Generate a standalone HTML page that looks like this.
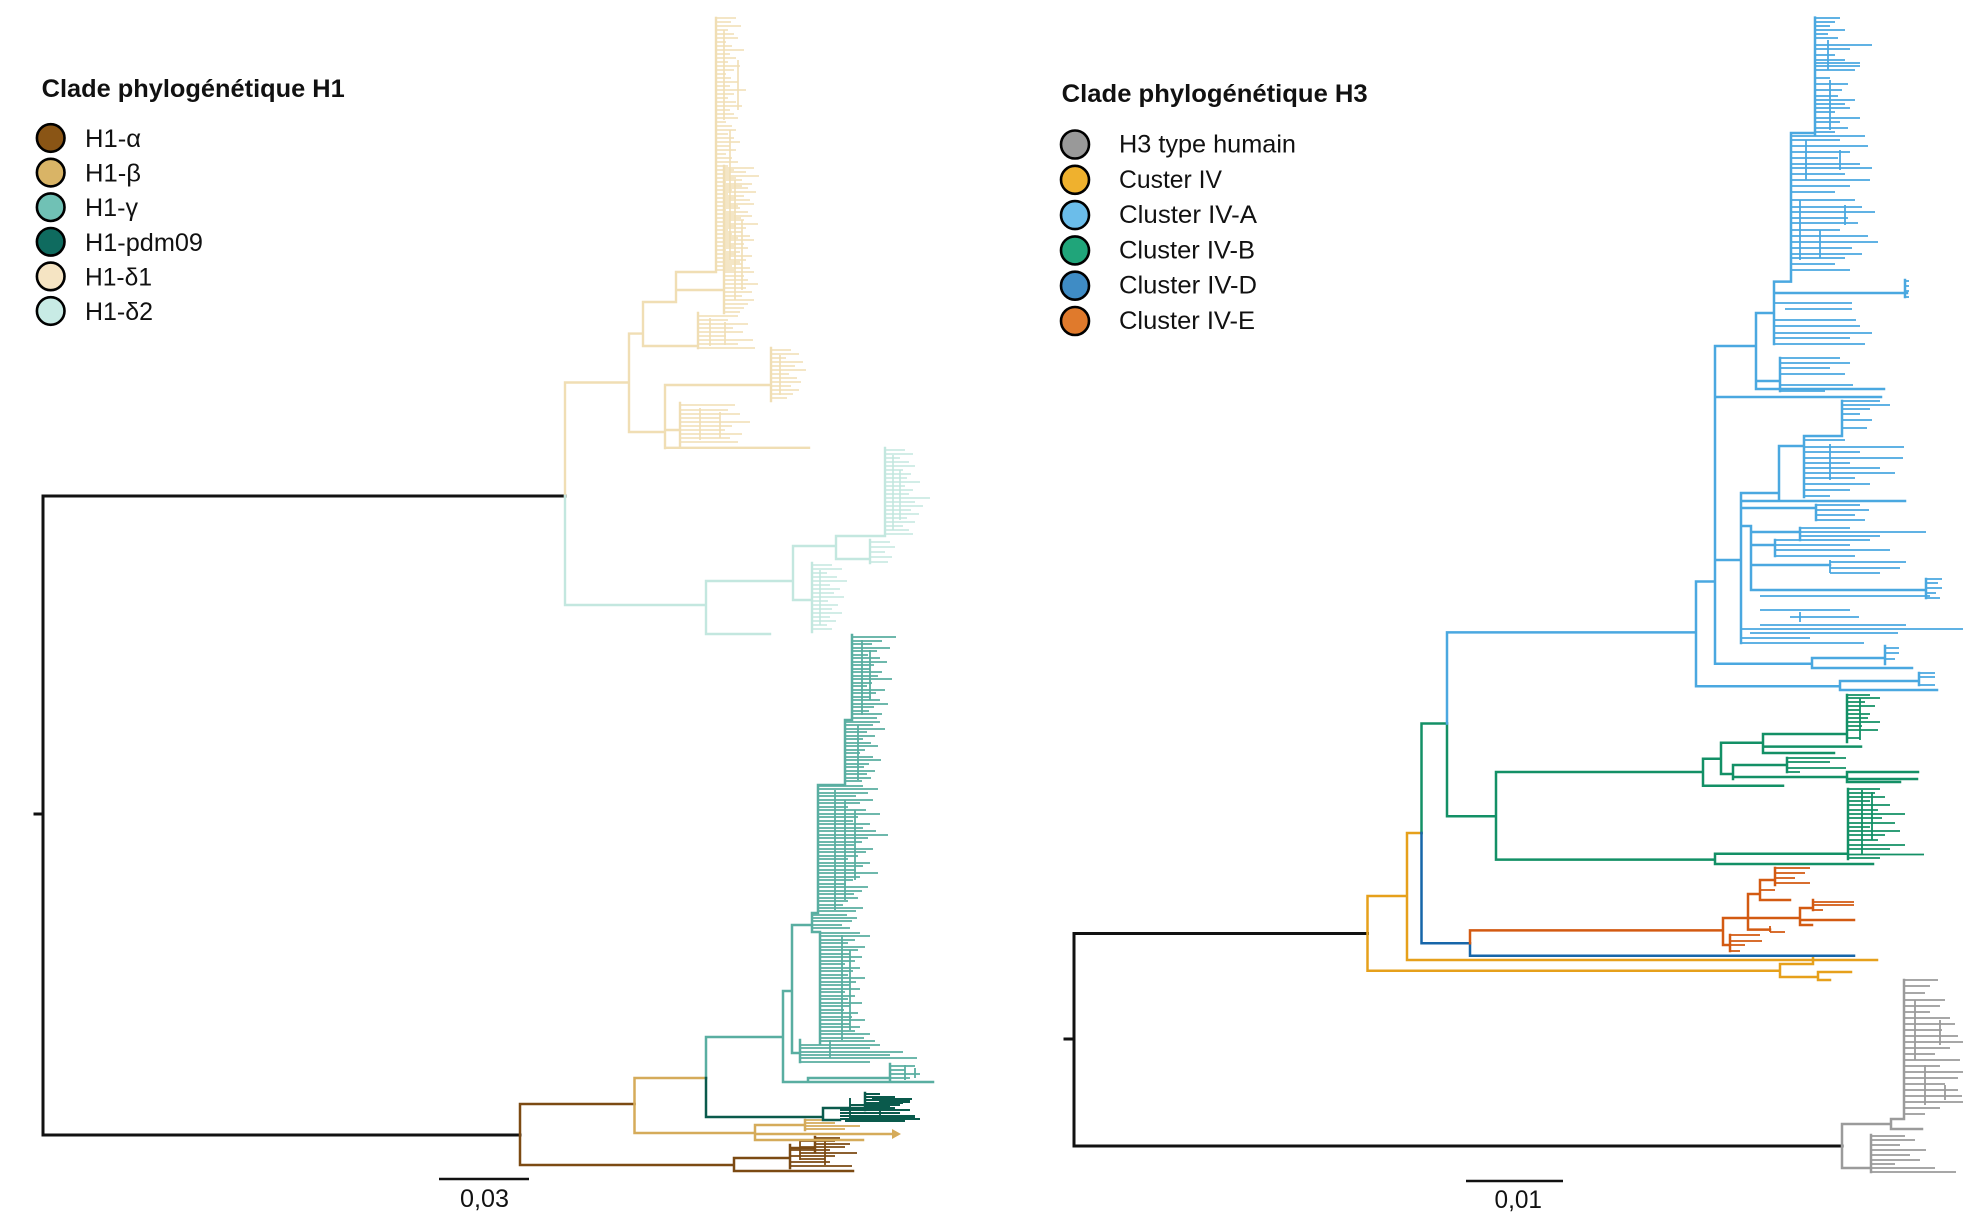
<!DOCTYPE html>
<html><head><meta charset="utf-8"><style>html,body{margin:0;padding:0;background:#fff}svg{display:block}text{font-family:"Liberation Sans",Arial,sans-serif;fill:#111}</style></head><body>
<svg width="1980" height="1215" viewBox="0 0 1980 1215" xmlns="http://www.w3.org/2000/svg">
<rect width="1980" height="1215" fill="#fff"/>
<!-- LEGEND H1 -->
<text x="41.7" y="97" font-size="25" font-weight="bold" textLength="303" lengthAdjust="spacingAndGlyphs">Clade phylogénétique H1</text>
<g stroke="#000" stroke-width="2.6">
<circle cx="50.7" cy="138" r="13.8" fill="#8a5515"/>
<circle cx="50.7" cy="172.6" r="13.8" fill="#d9b466"/>
<circle cx="50.7" cy="207.2" r="13.8" fill="#70c1b5"/>
<circle cx="50.7" cy="241.8" r="13.8" fill="#0f6b5f"/>
<circle cx="50.7" cy="276.4" r="13.8" fill="#f5e4c3"/>
<circle cx="50.7" cy="311" r="13.8" fill="#c8ebe5"/>
</g>
<g font-size="25">
<text x="85" y="147" textLength="56" lengthAdjust="spacingAndGlyphs">H1-α</text>
<text x="85" y="181.6" textLength="56" lengthAdjust="spacingAndGlyphs">H1-β</text>
<text x="85" y="216.2" textLength="53" lengthAdjust="spacingAndGlyphs">H1-γ</text>
<text x="85" y="250.8" textLength="118" lengthAdjust="spacingAndGlyphs">H1-pdm09</text>
<text x="85" y="285.4" textLength="67" lengthAdjust="spacingAndGlyphs">H1-δ1</text>
<text x="85" y="320" textLength="68" lengthAdjust="spacingAndGlyphs">H1-δ2</text>
</g>
<!-- LEGEND H3 -->
<text x="1061.7" y="102" font-size="25" font-weight="bold" textLength="306" lengthAdjust="spacingAndGlyphs">Clade phylogénétique H3</text>
<g stroke="#000" stroke-width="2.6">
<circle cx="1075" cy="144.5" r="14" fill="#999999"/>
<circle cx="1075" cy="179.8" r="14" fill="#efb12e"/>
<circle cx="1075" cy="215.1" r="14" fill="#6bbdea"/>
<circle cx="1075" cy="250.4" r="14" fill="#20a57a"/>
<circle cx="1075" cy="285.7" r="14" fill="#3f8cc5"/>
<circle cx="1075" cy="321" r="14" fill="#e07a2c"/>
</g>
<g font-size="25">
<text x="1119" y="152.5" textLength="177" lengthAdjust="spacingAndGlyphs">H3 type humain</text>
<text x="1119" y="187.8" textLength="103" lengthAdjust="spacingAndGlyphs">Custer IV</text>
<text x="1119" y="223.1" textLength="138" lengthAdjust="spacingAndGlyphs">Cluster IV-A</text>
<text x="1119" y="258.4" textLength="136" lengthAdjust="spacingAndGlyphs">Cluster IV-B</text>
<text x="1119" y="293.7" textLength="138" lengthAdjust="spacingAndGlyphs">Cluster IV-D</text>
<text x="1119" y="329" textLength="136" lengthAdjust="spacingAndGlyphs">Cluster IV-E</text>
</g>
<!-- SCALE BARS -->
<g stroke="#111" stroke-width="2.5"><path d="M439 1179H529 M1466 1181H1563"/></g>
<text x="460" y="1207" font-size="25" textLength="49" lengthAdjust="spacingAndGlyphs">0,03</text>
<text x="1494.5" y="1208" font-size="25" textLength="47.5" lengthAdjust="spacingAndGlyphs">0,01</text>

<!-- LEFT TREE -->
<g fill="none" stroke-linecap="square">
<path stroke="#111" stroke-width="3" d="M43 496V1135 M35 814H43 M43 496H565 M43 1135H520"/>
<!-- delta1 -->
<g stroke="#f0deb4">
<path stroke-width="2.4" d="M565 382.5V496 M565 382.5H629 M629 333.6V432 M629 432H665 M665 385V448 M665 385H771 M771 348V401 M665 430H680 M680 403V446 M665 447.8H809 M629 333.6H643 M643 302V346 M643 346H698 M698 313V348 M643 302H676 M676 272V302 M676 272H716 M716 18V272 M676 290H724 M724 166V313"/>
<path stroke-width="1.6" stroke-linecap="butt" d="M716 18h20M716 22h15M716 26h25M716 30h12M716 34h18M716 38h22M716 42h10M716 46h16M716 50h28M716 54h14M716 58h20M716 62h12M716 66h24M716 70h18M716 74h10M716 78h15M716 82h22M716 86h14M716 90h30M716 94h18M716 98h12M716 102h20M716 106h26M716 110h14M716 114h18M716 118h22M716 122h10M716 126h16M716 130h20M716 134h12M716 138h18M716 142h24M716 146h14M716 150h20M716 154h10M716 158h16M716 162h22M716 166h12M716 170h18M716 174h14M716 178h20M716 182h10M716 186h26M716 190h16M716 194h12M716 198h20M716 202h14M716 206h22M716 210h10M716 214h18M716 218h25M716 222h14M716 226h20M716 230h12M716 234h16M716 238h22M716 242h14M716 246h18M716 250h10M716 254h20M716 258h14M716 262h24M716 266h16M716 270h18 M724 30V120 M730 130V260 M738 60V110 M735 200V250
M724 168h30M724 172h22M724 176h35M724 180h18M724 184h28M724 188h24M724 192h32M724 196h20M724 200h26M724 204h30M724 208h16M724 212h24M724 216h28M724 220h20M724 224h34M724 228h22M724 232h18M724 236h26M724 240h30M724 244h20M724 248h24M724 252h16M724 256h28M724 260h22M724 264h18M724 268h26M724 272h30M724 276h20M724 280h24M724 284h34M724 288h22M724 292h28M724 296h18M724 300h30M724 304h24M724 308h20M724 312h16 M735 180V300 M742 220V290
M698 316h40M698 320h30M698 324h50M698 328h35M698 332h45M698 336h28M698 340h55M698 344h40M698 348h57 M710 318V346 M725 322V345
M771 350h20M771 354h28M771 358h15M771 362h32M771 366h24M771 370h35M771 374h18M771 378h26M771 382h30M771 386h20M771 390h28M771 394h22M771 398h16 M780 355V395
M680 405h55M680 410h48M680 414h60M680 418h40M680 422h70M680 426h52M680 430h45M680 434h62M680 438h50M680 442h58 M700 408V440 M720 412V438"/>
</g>
<!-- delta2 -->
<g stroke="#c3e7df">
<path stroke-width="2.4" d="M565 496V605 M565 605H706 M706 581V634 M706 634H770 M706 581H793 M793 546V600 M793 546H836 M836 536V559 M836 536H885 M885 448V536 M836 559H870 M870 540V563 M793 600H812 M812 563V632"/>
<path stroke-width="1.6" stroke-linecap="butt" d="M885 450h20M885 454h28M885 458h15M885 462h24M885 466h30M885 470h18M885 474h26M885 478h22M885 482h35M885 486h20M885 490h28M885 494h24M885 498h45M885 502h30M885 506h38M885 510h26M885 514h34M885 518h22M885 522h30M885 526h18M885 530h24M885 534h28 M893 455V530 M900 470V520
M870 542h20M870 547h25M870 552h15M870 557h22M870 562h18
M812 565h20M812 569h30M812 573h15M812 577h25M812 581h35M812 585h18M812 589h28M812 593h22M812 597h32M812 601h16M812 605h26M812 609h20M812 613h30M812 617h18M812 621h24M812 625h15M812 629h20 M820 570V625"/>
</g>
<!-- alpha -->
<g stroke="#7c4a13">
<path stroke-width="2.5" d="M520 1104V1165 M520 1104H634.5 M520 1165H734 M734 1158V1171 M734 1158H790 M734 1171H853 M790 1145V1168 M790 1148H815 M815 1137V1152"/>
<path stroke-width="1.8" stroke-linecap="butt" d="M815 1138h25M800 1141h35M815 1144h35M800 1147h45M790 1150h40M800 1153h57M790 1156h45M800 1159h25M790 1162h40M790 1166h62 M800 1140V1160 M825 1139V1165"/>
</g>
<!-- beta -->
<g stroke="#d5ab5a">
<path stroke-width="2.5" d="M634.5 1078V1133 M634.5 1078H706 M634.5 1133H755 M755 1125V1140 M755 1125H805 M805 1120V1130 M755 1134H895 M755 1140H863"/>
<path stroke-width="1.8" stroke-linecap="butt" d="M805 1120h35M805 1123h30M805 1126h55M805 1129h40"/>
<path fill="#d5ab5a" stroke="none" d="M892 1129L901 1134L892 1139Z"/>
</g>
<!-- gamma -->
<g stroke="#59aea1">
<path stroke-width="2.5" d="M706 1037V1078 M706 1037H783 M783 991V1082 M783 1082H933 M808 1078V1082 M808 1078H890 M890 1064V1082 M783 991H792 M792 925V1053 M792 1053H800 M800 1040V1062 M792 925H812 M812 913V932 M812 932H820 M820 932V1044 M812 913H818 M818 785V913 M818 785H845 M845 720V785 M845 720H852 M852 635V720"/>
<path stroke-width="1.8" stroke-linecap="butt" d="M852 637h44M852 641h30M852 644h20M852 648h38M852 651h25M852 655h16M852 658h28M852 662h35M852 665h22M852 669h18M852 672h30M852 676h26M852 679h40M852 683h20M852 686h15M852 690h33M852 693h24M852 697h19M852 700h28M852 704h36M852 707h22M852 711h17M852 714h30M852 718h25
M845 722h35M845 725h28M845 729h40M845 732h22M845 736h30M845 739h18M845 743h26M845 746h33M845 750h20M845 753h15M845 757h28M845 760h36M845 764h24M845 767h19M845 771h30M845 774h22M845 778h26M845 781h17
M818 786h45M818 789h60M818 793h50M818 796h38M818 800h55M818 803h42M818 807h30M818 810h48M818 814h62M818 817h40M818 821h35M818 824h52M818 828h45M818 831h58M818 835h70M818 838h50M818 842h44M818 845h36M818 849h55M818 852h48M818 856h40M818 859h30M818 863h52M818 866h45M818 870h38M818 873h60M818 877h42M818 880h35M818 884h28M818 887h50M818 891h44M818 894h36M818 898h40M818 901h30M818 905h25M818 908h45M818 911h38
M812 915h35M812 918h45M812 921h40M812 925h30M812 928h38
M820 933h40M820 936h50M820 940h35M820 943h28M820 947h45M820 950h38M820 954h30M820 957h42M820 961h35M820 964h25M820 968h40M820 971h33M820 975h28M820 978h45M820 982h36M820 985h30M820 989h40M820 992h25M820 996h35M820 999h28M820 1003h42M820 1006h30M820 1010h24M820 1013h38M820 1017h32M820 1020h45M820 1024h30M820 1027h40M820 1031h35M820 1034h50M820 1038h44M820 1041h55
M800 1045h80M800 1048h70M800 1052h103M800 1055h90M800 1058h117M800 1062h70
M862 640V715 M870 650V700 M858 725V780 M835 790V910 M845 800V900 M855 810V880 M842 935V1040 M850 950V1030 M830 1040V1058 M905 1065V1080 M915 1068V1078
M890 1066h25M890 1070h15M890 1074h30M890 1078h20"/>
</g>
<!-- pdm09 -->
<g stroke="#0a5a4c">
<path stroke-width="2.5" d="M706 1078V1117 M706 1117H823 M823 1108V1120 M823 1108H865 M865 1093V1110 M823 1120H840"/>
<path stroke-width="1.9" stroke-linecap="butt" d="M865 1094h15M865 1097h30M865 1100h45M865 1103h38M865 1106h25M840 1108h55M840 1110h70M840 1113h60M840 1116h75M840 1119h80 M850 1098V1120 M880 1096V1118 M872 1099h40M880 1102h30M850 1105h50M850 1118h65M845 1121h60"/>
</g>
</g>

<!-- RIGHT TREE -->
<g fill="none" stroke-linecap="square">
<path stroke="#111" stroke-width="3" d="M1074 933.5V1146 M1065 1039H1074 M1074 933.5H1367.5 M1074 1146H1842"/>
<!-- Custer IV -->
<path stroke="#e6a01b" stroke-width="2.5" d="M1367.5 896V970.7 M1367.5 970.7H1780 M1780 964V977 M1780 964H1813 M1813 958V964 M1780 977H1818 M1818 972V980 M1818 972H1851 M1818 980H1830 M1367.5 896H1407 M1407 833V960 M1407 960H1877 M1407 833H1421.5"/>
<!-- IV-B -->
<g stroke="#139066">
<path stroke-width="2.5" d="M1421.5 723.5V833 M1421.5 723.5H1447 M1447 723.5V816.2 M1447 816.2H1496 M1496 772V859.6 M1496 772H1703 M1703 758.7V785.7 M1703 785.7H1783 M1703 758.7H1721 M1721 742.7V774 M1721 742.7H1763 M1763 734V753 M1763 734H1847 M1847 695V742 M1763 746.6H1861 M1763 753H1834 M1721 774H1733 M1733 765V779 M1733 765H1787 M1787 758V772 M1733 777H1847 M1847 772V782 M1847 772H1918 M1847 779H1917 M1847 782H1900 M1496 859.6H1715 M1715 853.7V864 M1715 864H1873 M1715 853.7H1848 M1848 789V859"/>
<path stroke-width="1.8" stroke-linecap="butt" d="M1787 758h59M1787 762h43M1787 768h59M1787 772h13 M1847 695h23M1847 698h33M1847 702h18M1847 706h28M1847 710h13M1847 714h23M1847 718h21M1847 722h33M1847 726h15M1847 730h31M1847 738h13 M1860 698V740
M1848 789h32M1848 793h27M1848 797h37M1848 801h22M1848 805h42M1848 810h30M1848 814h57M1848 818h34M1848 823h47M1848 827h22M1848 831h52M1848 835h37M1848 840h30M1848 845h57M1848 849h42M1848 854.5h76M1848 858h32 M1862 790V855 M1872 792V840"/>
</g>
<!-- IV-D -->
<path stroke="#1766a9" stroke-width="2.5" d="M1421.5 833V943.3 M1421.5 943.3H1470 M1470 943.3V955.8 M1470 955.8H1854"/>
<!-- IV-E -->
<g stroke="#d35a12">
<path stroke-width="2.5" d="M1470 930.4V943.3 M1470 930.4H1723 M1723 918V945 M1723 918H1748 M1748 894V929.6 M1748 894H1760 M1760 880V900 M1760 880H1775 M1775 868V885 M1760 900H1790 M1748 918H1800 M1800 908V925 M1800 908H1813 M1813 900V910 M1800 920H1854 M1800 925H1812 M1748 929.6H1770 M1723 945H1730 M1730 935V951"/>
<path stroke-width="1.8" stroke-linecap="butt" d="M1775 868h35M1775 873h30M1775 878h20M1775 883h35M1813 902h41M1813 905h41M1813 910h10M1730 935h30M1730 941h32M1730 945h15M1730 951h10 M1770 926V932 M1770 932h15 M1760 890h15"/>
</g>
<!-- IV-A -->
<g stroke="#4aa8e0">
<path stroke-width="2.5" d="M1447 632.4V723.5 M1447 632.4H1696 M1696 581.5V686.3 M1696 686.3H1840 M1840 681V690 M1840 681H1919 M1919 673V685 M1840 690H1937 M1696 581.5H1715 M1715 346V663.7 M1715 663.7H1812 M1812 658V668 M1812 658H1885 M1885 646V664 M1812 668H1912 M1715 346H1756 M1756 313V389 M1756 313H1774 M1774 281.6V344 M1774 281.6H1791 M1791 133V281.6 M1791 133H1815 M1815 17.6V135 M1774 293H1907 M1905 280V297 M1756 381H1780 M1780 358V391 M1756 389H1884 M1715 397H1881 M1715 560H1741 M1741 493V643 M1741 493H1779 M1779 446V500 M1779 446H1804 M1804 436V497 M1804 436H1842 M1842 401V436 M1741 501H1905 M1741 508H1816 M1816 505V520 M1741 526H1751 M1751 526V590 M1751 532H1800 M1800 528V540 M1751 545H1775 M1775 540V556 M1751 565H1830 M1751 590H1926 M1926 579V598"/>
<path stroke-width="1.8" stroke-linecap="butt" d="M1815 18h25M1815 22h20M1815 26h15M1815 30h30M1815 34h13M1815 38h23M1815 45h57M1815 49h35M1815 55h20M1815 60h30M1815 63h45M1815 66h45M1815 70h40M1815 78h15M1815 84h33M1815 90h27M1815 96h23M1815 100h40M1815 104h30M1815 108h35M1815 112h20M1815 118h45M1815 122h25M1815 128h33M1815 132h20 M1828 40V70 M1830 80V130
M1791 136h74M1791 140h49M1791 146h77M1791 152h59M1791 158h47M1791 164h69M1791 168h81M1791 174h54M1791 180h79M1791 186h59M1791 192h44M1791 200h64M1791 207h71M1791 212h84M1791 218h57M1791 223h67M1791 230h49M1791 236h77M1791 242h87M1791 248h61M1791 254h71M1791 258h54M1791 264h44M1791 270h59 M1806 140V180 M1800 200V260 M1820 230V258 M1840 150V170 M1845 205V225
M1774 303h78M1785 309h67M1774 320h82M1774 326h86M1774 333h98M1774 338h76M1774 344h91 M1905 281h4M1905 286h4M1905 291h4M1905 297h4
M1780 358h60M1780 363h70M1780 368h50M1780 374h65M1780 385h73M1780 391h45
M1842 401h38M1842 405h48M1842 409h28M1842 414h18M1842 420h30M1842 428h25
M1804 440h41M1804 447h100M1804 452h56M1804 458h99M1804 463h46M1804 468h76M1804 473h91M1804 478h51M1804 484h66M1804 490h46M1804 496h26 M1830 444V480
M1816 505h44M1816 510h53M1816 515h39M1816 520h49
M1800 528h50M1800 532h126M1800 536h80
M1775 540h95M1775 545h75M1775 550h115M1775 556h80
M1830 560V573 M1830 562h76M1830 568h70M1830 573h50
M1926 579h16M1926 583h12M1926 588h16M1926 593h10M1926 598h14 M1760 596h170
M1760 610h90M1800 612V622M1790 617h69M1760 625h146M1741 629h222M1750 633h148M1741 638h69M1741 643h123
M1885 648h14M1885 653h14M1885 659h10M1919 673h16M1919 677h16M1919 685h16"/>
</g>
<!-- human H3 -->
<g stroke="#9b9b9b">
<path stroke-width="2.5" d="M1842 1124V1168 M1842 1124H1891 M1891 1119V1129 M1891 1119H1904 M1904 980V1119 M1891 1129H1922 M1842 1168H1871 M1871 1135V1172"/>
<path stroke-width="1.8" stroke-linecap="butt" d="M1904 980h34M1904 986h26M1904 993h21M1904 1000h41M1904 1006h36M1904 1012h26M1904 1018h46M1904 1024h51M1904 1030h38M1904 1036h54M1904 1042h59M1904 1048h46M1904 1054h31M1904 1060h56M1904 1066h36M1904 1072h59M1904 1078h54M1904 1084h41M1904 1090h54M1904 1096h58M1904 1102h59M1904 1108h36M1904 1114h21 M1915 1000V1060 M1925 1065V1105 M1940 1020V1045 M1945 1085V1100
M1871 1136h34M1871 1140h44M1871 1145h29M1871 1150h55M1871 1155h39M1871 1160h49M1871 1164h24M1871 1168h64M1871 1172h85"/>
</g>
</g>
</svg>
</body></html>
